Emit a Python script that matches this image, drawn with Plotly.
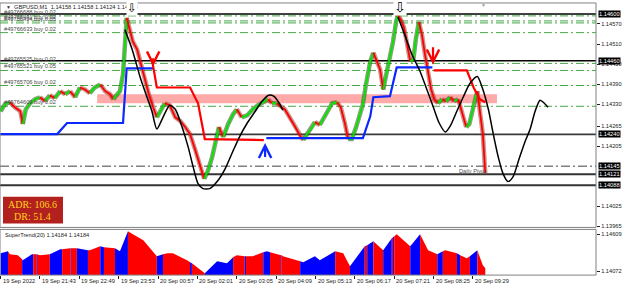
import plotly.graph_objects as go

FONT = "Liberation Sans Narrow, Liberation Sans, Arial, sans-serif"

# ---------------- data (x = M1 bar index, y = price) ----------------
time_bars = [0, 64, 128, 192, 256, 320, 384, 448, 512, 576, 640, 704, 768]
time_labels = ["19 Sep 2022", "19 Sep 21:43", "19 Sep 22:49", "19 Sep 23:53", "20 Sep 00:57",
               "20 Sep 02:01", "20 Sep 03:05", "20 Sep 04:09", "20 Sep 05:13", "20 Sep 06:17",
               "20 Sep 07:21", "20 Sep 08:25", "20 Sep 09:29"]

price_ticks = [1.14570, 1.14510, 1.14450, 1.14390, 1.14330, 1.14265, 1.14205,
               1.14025, 1.13965]
ind_ticks = [1.14609, 1.14072]

price_bar = [0, 7, 15, 23, 32, 36, 41, 48, 56, 64, 72, 80, 88, 97, 105, 113, 121, 129, 137, 145,
             153, 162, 170, 178, 183, 189, 194, 199, 202, 205, 210, 215, 222, 228, 235, 241, 248, 254, 261, 267,
             275, 284, 292, 300, 308, 316, 324, 331, 337, 344, 350, 355, 362, 370, 378, 384, 392, 401, 410, 418,
             427, 435, 441, 449, 456, 462, 470, 479, 487, 492, 498, 505, 511, 519, 526, 532, 539, 547, 553, 560,
             565, 571, 578, 584, 589, 594, 601, 606, 612, 617, 622, 627, 632, 638, 643, 646, 651, 656, 661, 666,
             671, 675, 680, 685, 690, 695, 700, 705, 711, 718, 724, 731, 737, 744, 750, 757, 762, 767, 771, 775,
             779, 784, 788]
price_val = [1.14309, 1.14330, 1.14336, 1.14321, 1.14309, 1.14271, 1.14315, 1.14333, 1.14345, 1.14351,
             1.14339, 1.14357, 1.14348, 1.14369, 1.14360, 1.14369, 1.14351, 1.14380, 1.14374, 1.14363,
             1.14380, 1.14389, 1.14369, 1.14360, 1.14345, 1.14357, 1.14369, 1.14419, 1.14493, 1.14588,
             1.14553, 1.14517, 1.14493, 1.14449, 1.14404, 1.14360, 1.14321, 1.14291, 1.14315, 1.14333,
             1.14327, 1.14291, 1.14280, 1.14262, 1.14241, 1.14196, 1.14152, 1.14107, 1.14131, 1.14173,
             1.14226, 1.14262, 1.14232, 1.14271, 1.14300, 1.14315, 1.14291, 1.14297, 1.14315, 1.14327,
             1.14336, 1.14345, 1.14333, 1.14333, 1.14321, 1.14315, 1.14291, 1.14262, 1.14235, 1.14223,
             1.14241, 1.14256, 1.14277, 1.14268, 1.14291, 1.14309, 1.14333, 1.14336, 1.14321, 1.14271,
             1.14226, 1.14226, 1.14262, 1.14300, 1.14330, 1.14389, 1.14458, 1.14484, 1.14458, 1.14434,
             1.14374, 1.14419, 1.14458, 1.14517, 1.14576, 1.14597, 1.14582, 1.14558, 1.14508, 1.14458,
             1.14464, 1.14523, 1.14576, 1.14538, 1.14478, 1.14419, 1.14374, 1.14345, 1.14333, 1.14345,
             1.14339, 1.14351, 1.14339, 1.14345, 1.14309, 1.14262, 1.14271, 1.14309, 1.14345, 1.14369,
             1.14309, 1.14241, 1.14124]

st_bar = [0, 92, 108, 199, 205, 248,
          246, 254, 308, 321, 332, 428,
          432, 589, 601, 606, 633, 644, 702,
          704, 758, 769, 779, 788]
st_val = [1.14241, 1.14241, 1.14274, 1.14274, 1.14437, 1.14437,
          1.14464, 1.14380, 1.14380, 1.14333, 1.14226, 1.14223,
          1.14229, 1.14229, 1.14294, 1.14351, 1.14354, 1.14440, 1.14440,
          1.14431, 1.14431, 1.14380, 1.14345, 1.14336]
st_trend = [1] * 6 + [-1] * 6 + [1] * 7 + [-1] * 5

black_bar = [202, 214, 227, 238, 246, 254, 264, 275, 284, 295, 305, 313, 321, 329, 340, 352, 365, 378,
             389, 401, 414, 425, 436, 444, 453, 459, None,
             646, 657, 669, 682, 693, 703, 713, 723, 731, 741, 752, 763, 775, 783, 793, 801, 809, 817,
             825, 833, 843, 853, 861, 869, 877, 884, 890]
black_val = [1.14553, 1.14493, 1.14410, 1.14351, 1.14309, 1.14256, 1.14291, 1.14327, 1.14315, 1.14262,
             1.14202, 1.14143, 1.14093, 1.14078, 1.14078, 1.14099, 1.14137, 1.14191, 1.14235, 1.14274,
             1.14309, 1.14339, 1.14357, 1.14354, 1.14333, 1.14312, None,
             1.14591, 1.14538, 1.14478, 1.14428, 1.14374, 1.14324, 1.14274, 1.14247, 1.14265, 1.14306,
             1.14351, 1.14392, 1.14413, 1.14380, 1.14315, 1.14241, 1.14173, 1.14122, 1.14099, 1.14113,
             1.14167, 1.14220, 1.14256, 1.14309, 1.14342, 1.14333, 1.14321]

sig_bar = [248, 430, 703]
sig_head = [1.14443, 1.14214, 1.14449]
sig_tail = [1.14472, 1.14168, 1.14505]
sig_dir = [-1, 1, -1]

fractal_bar = [214, 650]
fractal_price = [1.14618, 1.14622]

zone_bar = [157, 807]
zone_lo, zone_hi = 1.14333, 1.14360

order_ids = ["#49766688", "#49766491", "#49766494", "#49766633",
             "#49765525", "#49765521", "#49765706", "#49764609"]
order_lots = [0.02, 0.02, 0.05, 0.02, 0.02, 0.05, 0.02, 0.02]
order_prices = [1.14594, 1.14579, 1.14573, 1.14544, 1.14452, 1.14431, 1.14386, 1.14324]

level_prices = [1.14600, 1.14460, 1.14240, 1.14145, 1.14121, 1.14088]
pivot_price = 1.14145

ind_bar = [0, 12, 15, 28, 35, 36, 51, 53, 58, 59, 64, 80, 97, 100, 113, 114, 124, 142, 145, 162,
           168, 186, 194, 207, 215, 232, 254, 264, 271, 280, 303, 308, 311, 332, 352, 368, 378, 384,
           397, 399, 410, 427, 433, 438, 456, 457, 459, 487, 492, 511, 519, 544, 557, 568, 592, 596,
           606, 622, 636, 638, 640, 644, 666, 682, 695, 710, 719, 723, 742, 747, 758, 763, 775, 784, 788]
ind_val = [1.14333, 1.14362, 1.14319, 1.14305, 1.14248, 1.14233, 1.14319, 1.14319, 1.14319, 1.14319,
           1.14305, 1.14319, 1.14390, 1.14390, 1.14405, 1.14405, 1.14405, 1.14376, 1.14376, 1.14433,
           1.14419, 1.14405, 1.14362, 1.14648, 1.14605, 1.14519, 1.14290, 1.14319, 1.14333, 1.14333,
           1.14233, 1.14205, 1.14191, 1.14047, 1.14219, 1.14191, 1.14276, 1.14305, 1.14290, 1.14290,
           1.14290, 1.14348, 1.14362, 1.14348, 1.14305, 1.14305, 1.14290, 1.14219, 1.14205, 1.14290,
           1.14233, 1.14362, 1.14333, 1.14148, 1.14433, 1.14448, 1.14505, 1.14376, 1.14548, 1.14562,
           1.14576, 1.14605, 1.14433, 1.14605, 1.14376, 1.14319, 1.14362, 1.14376, 1.14333, 1.14305,
           1.14262, 1.14290, 1.14376, 1.14162, 1.14119]
ind_col = ["B", "R", "R", "R", "B", "B", "B", "R", "B", "R", "R", "B", "B", "R", "B", "R", "B", "R", "R", "B",
           "R", "B", "B", "R", "R", "R", "B", "R", "R", "R", "R", "B", "R", "B", "B", "B", "R", "R",
           "B", "R", "R", "B", "B", "R", "B", "R", "R", "B", "B", "B", "B", "R", "R", "B", "R", "B",
           "R", "B", "R", "B", "R", "R", "B", "R", "R", "B", "R", "R", "B", "R", "R", "B", "R", "R", "R"]

adr_text = "ADR: 106.6"
dr_text = "DR: 51.4"
title_text = "GBPUSD,M1  1.14158 1.14158 1.14124 1.14124"
ind_title = "SuperTrend(20) 1.14184 1.14184"

# ---------------- layout constants ----------------
W, H = 625, 290
XD = 596 / W
MAIN_DOM = [1 - 229 / H, 1 - 3 / H]
IND_DOM = [1 - 277 / H, 1 - 231 / H]
X_RANGE = [-1.0, 968.0]
Y_RANGE = [1.13962, 1.146326]
Y2_RANGE = [1.140192, 1.146761]
FS = 5.7

fig = go.Figure()

# supply / demand zone
fig.add_shape(type="rect", xref="x", yref="y", x0=zone_bar[0], x1=zone_bar[1],
              y0=zone_lo, y1=zone_hi, fillcolor="#ffa9a9", line_width=0, layer="below")

# order lines
for p in order_prices:
    fig.add_shape(type="line", xref="x domain", x0=0, x1=1, yref="y", y0=p, y1=p,
                  line=dict(color="#45a845", width=1, dash="8px,3px,2px,3px"), layer="below")

# level lines
level_style = {
    1.14600: dict(color="#000000", width=1.5),
    1.14460: dict(color="#000000", width=1.5),
    1.14240: dict(color="#3a3a3a", width=1.6),
    1.14145: dict(color="#404040", width=1, dash="9px,3px,2px,3px"),
    1.14121: dict(color="#333333", width=2),
    1.14088: dict(color="#333333", width=2),
}
for p in level_prices:
    fig.add_shape(type="line", xref="x domain", x0=0, x1=1, yref="y", y0=p, y1=p,
                  line=level_style[p], layer="below")

# candle fuzz underlay + coloured trend line (green rising, red falling)
n = len(price_bar)
seg_up = [price_val[i + 1] >= price_val[i] for i in range(n - 1)]
runs = []
s = 0
for i in range(1, n):
    if i == n - 1 or seg_up[i] != seg_up[s]:
        runs.append((s, i, seg_up[s]))
        s = i
for a, b, up in runs:
    fig.add_trace(go.Scatter(x=price_bar[a:b + 1], y=price_val[a:b + 1], mode="lines",
                             line=dict(color="rgba(55,100,30,0.6)" if up else "rgba(150,45,35,0.5)",
                                       width=4.5),
                             hoverinfo="skip"))
for a, b, up in runs:
    fig.add_trace(go.Scatter(x=price_bar[a:b + 1], y=price_val[a:b + 1], mode="lines",
                             line=dict(color="#00e600" if up else "#ff0000", width=1.8),
                             hoverinfo="skip"))

# supertrend step line
s = 0
m = len(st_bar)
for i in range(1, m + 1):
    if i == m or st_trend[i] != st_trend[s]:
        fig.add_trace(go.Scatter(x=st_bar[s:i], y=st_val[s:i], mode="lines",
                                 line=dict(color="#0a28ff" if st_trend[s] > 0 else "#ff0000", width=2.2),
                                 hoverinfo="skip"))
        s = i

# black projection curve
fig.add_trace(go.Scatter(x=black_bar, y=black_val, mode="lines", connectgaps=False,
                         line=dict(color="black", width=1.5, shape="spline", smoothing=0.7),
                         hoverinfo="skip"))

# signal arrows
for b, hd, tl, d in zip(sig_bar, sig_head, sig_tail, sig_dir):
    fig.add_annotation(x=b, y=hd, ax=b, ay=tl, xref="x", yref="y", axref="x", ayref="y",
                       text="", showarrow=True, arrowhead=5, arrowsize=1.1, arrowwidth=2.2,
                       arrowcolor="#0a28ff" if d > 0 else "#ff0000")

# indicator window (filled area, coloured runs)
cmap = {"B": "#0000ff", "R": "#ff0000"}
k = len(ind_bar)
s = 0
for i in range(1, k):
    if i == k - 1 or ind_col[i] != ind_col[s]:
        fig.add_trace(go.Scatter(x=ind_bar[s:i + 1], y=ind_val[s:i + 1], yaxis="y2",
                                 mode="none", fill="tozeroy", fillcolor=cmap[ind_col[s]],
                                 hoverinfo="skip"))
        s = i

# ---------------- texts ----------------
small = dict(family=FONT, size=FS, color="#222222")

fig.add_annotation(xref="paper", yref="paper", x=4 / W, y=1 - 7 / H, text="▼", showarrow=False,
                   xanchor="left", yanchor="middle", font=dict(family=FONT, size=5, color="#333"))
fig.add_annotation(xref="paper", yref="paper", x=12 / W, y=1 - 7 / H, text=title_text,
                   showarrow=False, xanchor="left", yanchor="middle", font=small)

for b, p, sz in zip(fractal_bar, fractal_price, [12, 14]):
    fig.add_annotation(x=b, y=p, xref="x", yref="y", text="⇩", showarrow=False,
                       xanchor="center", yanchor="middle", bgcolor="white", borderpad=0,
                       font=dict(family="DejaVu Sans", size=sz, color="black"))
fig.add_annotation(xref="paper", yref="paper", x=483 / W, y=1 - 5 / H, text="▼", showarrow=False,
                   xanchor="center", yanchor="middle",
                   font=dict(family=FONT, size=5, color="#999999"))

for oid, lot, p in zip(order_ids, order_lots, order_prices):
    fig.add_annotation(x=2, y=p, xref="x", yref="y", yshift=4, xanchor="left", yanchor="middle",
                       text=f"{oid} buy {lot:.2f}", showarrow=False,
                       font=dict(family=FONT, size=FS, color="#4a4a4a"))

fig.add_annotation(x=767, y=pivot_price, xref="x", yref="y", yshift=-5, text="Daily Pivot",
                   xanchor="center", yanchor="middle",
                   showarrow=False, font=dict(family=FONT, size=FS, color="#555555"))

# highlighted price labels
for p in level_prices:
    fig.add_annotation(xref="paper", x=XD + 2 / W, xanchor="left", yanchor="middle", yref="y", y=p,
                       text=f"{p:.5f}", showarrow=False, bgcolor="black", borderpad=0,
                       font=dict(family=FONT, size=FS, color="white"))

# ADR box
fig.add_shape(type="rect", xref="paper", yref="paper", x0=3 / W, x1=63 / W,
              y0=1 - 225 / H, y1=1 - 198 / H, fillcolor="#b3211e", line_width=0)
fig.add_annotation(xref="paper", yref="paper", x=32 / W, y=1 - 206 / H, text=adr_text,
                   xanchor="center", yanchor="middle", showarrow=False,
                   font=dict(family="Liberation Serif", size=10, color="#ffd21a"))
fig.add_annotation(xref="paper", yref="paper", x=32 / W, y=1 - 218.5 / H, text=dr_text,
                   xanchor="center", yanchor="middle", showarrow=False,
                   font=dict(family="Liberation Serif", size=10, color="#ffd21a"))

fig.add_annotation(xref="paper", yref="paper", x=3 / W, y=1 - 237 / H, text=ind_title,
                   showarrow=False, xanchor="left", yanchor="middle", font=small)

# time labels
for b, t in zip(time_bars, time_labels):
    fig.add_annotation(x=b, xref="x", yref="paper", y=1 - 283 / H, text=t, showarrow=False,
                       xanchor="left", yanchor="middle", font=small)

# panel frames
for dom in (MAIN_DOM, IND_DOM):
    fig.add_shape(type="rect", xref="paper", yref="paper", x0=0, x1=XD, y0=dom[0], y1=dom[1],
                  line=dict(color="#808080", width=1), fillcolor="rgba(0,0,0,0)")

fig.update_layout(
    width=W, height=H, margin=dict(l=0, r=0, t=0, b=0),
    paper_bgcolor="white", plot_bgcolor="white", showlegend=False,
    xaxis=dict(domain=[0, XD], range=X_RANGE, anchor="y2", showgrid=False, zeroline=False,
               showticklabels=False, ticks="outside", ticklen=3, tickcolor="#222",
               tickvals=time_bars, showline=False, fixedrange=True),
    yaxis=dict(domain=MAIN_DOM, range=Y_RANGE, anchor="x", side="right", showgrid=False,
               zeroline=False, tickvals=price_ticks, ticktext=[f"{v:.5f}" for v in price_ticks],
               ticks="outside", ticklen=3, tickcolor="#222", tickfont=small, showline=False),
    yaxis2=dict(domain=IND_DOM, range=Y2_RANGE, anchor="x", side="right", showgrid=False,
                zeroline=False, tickvals=ind_ticks, ticktext=[f"{v:.5f}" for v in ind_ticks],
                ticks="outside", ticklen=3, tickcolor="#222", tickfont=small, showline=False),
)

fig.write_html("out.html")
